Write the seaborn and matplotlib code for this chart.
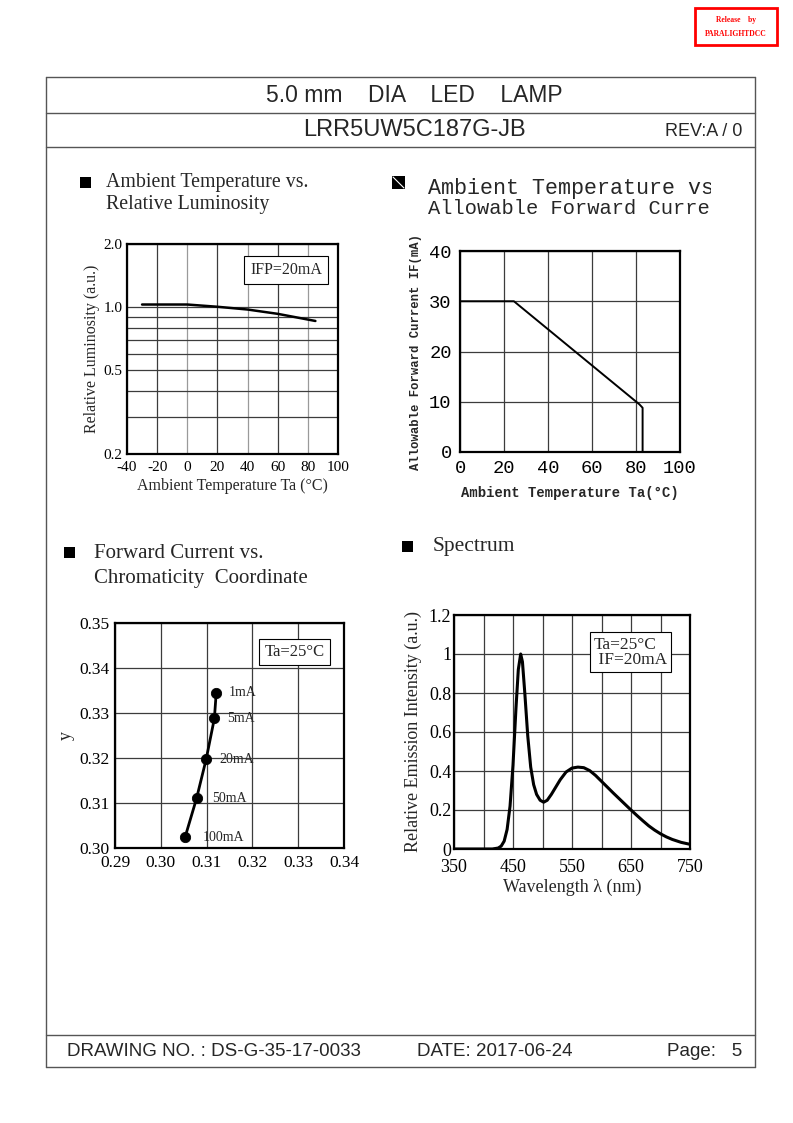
import matplotlib
matplotlib.use("Agg")
import matplotlib.pyplot as plt
import seaborn as sns
from matplotlib.lines import Line2D
from matplotlib.patches import Rectangle
from matplotlib.ticker import FixedLocator, NullFormatter

# ---- data ----
lum_temp = [-30, -10, 0, 20, 40, 60, 85]
lum_rel = [1.03, 1.03, 1.03, 1.005, 0.975, 0.93, 0.86]

derate_temp = [0, 24.5, 81.5, 83, 83]
derate_if = [30, 30, 9.5, 8.8, 0]

chroma_current = ["1mA", "5mA", "20mA", "50mA", "100mA"]
chroma_x = [0.3121, 0.3117, 0.3099, 0.3078, 0.3053]
chroma_y = [0.3345, 0.3288, 0.3197, 0.3110, 0.3024]

spec_wl = [350, 415, 425, 430, 435, 440, 445, 450, 455, 459, 463, 466, 470, 475,
           480, 485, 490, 496, 502, 508, 515, 522, 530, 540, 550, 560, 570, 580,
           590, 600, 610, 620, 630, 640, 650, 660, 670, 680, 690, 700, 710, 720,
           735, 750]
spec_int = [0, 0, 0.005, 0.015, 0.04, 0.10, 0.22, 0.43, 0.72, 0.92, 1.0, 0.96, 0.80, 0.58,
            0.42, 0.33, 0.28, 0.25, 0.24, 0.25, 0.28, 0.315, 0.355, 0.395, 0.415, 0.42, 0.417, 0.402,
            0.377, 0.347, 0.317, 0.287, 0.258, 0.229, 0.20, 0.172, 0.145, 0.119, 0.097, 0.078, 0.062,
            0.049, 0.034, 0.024]

# ---- style ----
sns.set_theme(style="white")
plt.rcParams["font.family"] = ["Liberation Serif", "DejaVu Serif"]
plt.rcParams["axes.linewidth"] = 1.6
plt.rcParams["axes.edgecolor"] = "black"
plt.rcParams["axes.unicode_minus"] = False
plt.rcParams["xtick.color"] = "black"
plt.rcParams["ytick.color"] = "black"

W, H = 793, 1123
fig = plt.figure(figsize=(W / 100, H / 100), dpi=100)


def rect(x0, y0, x1, y1):
    return [x0 / W, 1 - y1 / H, (x1 - x0) / W, (y1 - y0) / H]


def fx(x):
    return x / W


def fy(y):
    return 1 - y / H


def hline(y, x0=46, x1=755):
    fig.add_artist(Line2D([fx(x0), fx(x1)], [fy(y), fy(y)], color="#555555", lw=1))


def vline(x, y0=77, y1=1067):
    fig.add_artist(Line2D([fx(x), fx(x)], [fy(y0), fy(y1)], color="#555555", lw=1))


def bullet(x, y, s=11):
    fig.add_artist(Rectangle((fx(x), fy(y + s)), s / W, s / H, color="black", lw=0))


GRID = "#3c3c3c"

# ---- page frame ----
for y in [77, 113, 147, 1035, 1067]:
    hline(y)
vline(46)
vline(755)

sans = "Liberation Sans"
fig.text(fx(414), fy(96), "5.0 mm    DIA    LED    LAMP", ha="center", va="center",
         fontsize=16.5, family=sans)
fig.text(fx(414), fy(130), "LRR5UW5C187G-JB", ha="center", va="center", fontsize=17, family=sans)
fig.text(fx(742), fy(132), "REV:A / 0", ha="right", va="center", fontsize=13, family=sans)
fig.text(fx(67), fy(1052), "DRAWING NO. : DS-G-35-17-0033", ha="left", va="center",
         fontsize=13.5, family=sans)
fig.text(fx(417), fy(1052), "DATE: 2017-06-24", ha="left", va="center", fontsize=13.5, family=sans)
fig.text(fx(742), fy(1052), "Page:   5", ha="right", va="center", fontsize=13.5, family=sans)

# release stamp
fig.add_artist(Rectangle((fx(695), fy(45)), 82 / W, 37 / H, fill=False, ec="red", lw=2))
fig.text(fx(736), fy(20), "Release    by", ha="center", va="center", fontsize=5.5,
         color="red", weight="bold")
fig.text(fx(736), fy(34), "PARALIGHTDCC", ha="center", va="center", fontsize=5.5,
         color="red", weight="bold")

# ---- headings ----
bullet(80, 177)
fig.text(fx(106), fy(182), "Ambient Temperature vs.", ha="left", va="center", fontsize=14.3)
fig.text(fx(106), fy(205), "Relative Luminosity", ha="left", va="center", fontsize=14.3)

bullet(392, 176, 13)
fig.add_artist(Line2D([fx(393), fx(404)], [fy(177), fy(188)], color="white", lw=0.8))
# heading is cut off at the right edge on the original sheet
hd = fig.add_axes(rect(420, 170, 711, 222))
hd.set_axis_off()
hd.set_xlim(0, 1)
hd.set_ylim(0, 1)
hd.text(0.027, 0.65, "Ambient Temperature vs.", ha="left", va="center", fontsize=15.6,
        family="Liberation Mono", clip_on=True)
hd.text(0.027, 0.26, "Allowable Forward Current", ha="left", va="center", fontsize=14.7,
        family="Liberation Mono", clip_on=True)

bullet(64, 547)
fig.text(fx(94), fy(553), "Forward Current vs.", ha="left", va="center", fontsize=15)
fig.text(fx(94), fy(578), "Chromaticity  Coordinate", ha="left", va="center", fontsize=15)

bullet(402, 541)
fig.text(fx(433), fy(547), "Spectrum", ha="left", va="center", fontsize=15.5)

# ---- chart 1 : relative luminosity ----
ax1 = fig.add_axes(rect(127, 244, 338, 454))
sns.lineplot(x=lum_temp, y=lum_rel, ax=ax1, color="black", lw=1.8, sort=False, estimator=None)
ax1.set_yscale("log")
ax1.set_ylim(0.2, 2.0)
ax1.set_xlim(-40, 100)
ax1.set_xticks(range(-40, 101, 20))
ax1.set_yticks([0.2, 0.5, 1.0, 2.0])
ax1.set_yticklabels(["0.2", "0.5", "1.0", "2.0"])
ax1.yaxis.set_minor_locator(FixedLocator([0.3, 0.4, 0.6, 0.7, 0.8, 0.9]))
ax1.yaxis.set_minor_formatter(NullFormatter())
ax1.grid(True, which="major", color=GRID, lw=0.9)
ax1.grid(True, which="minor", axis="y", color=GRID, lw=0.9)
for i, gl in enumerate(ax1.get_xgridlines()):
    if i % 2 == 0:
        gl.set_color("#9a9a9a")
ax1.tick_params(which="both", length=0, labelsize=11)
ax1.tick_params(axis="y", pad=3)
ax1.tick_params(axis="x", pad=5)
ax1.set_xlabel("Ambient Temperature Ta (°C)", fontsize=11.5, labelpad=3)
ax1.set_ylabel("Relative Luminosity (a.u.)", fontsize=11.5, labelpad=3)
ax1.text(0.924, 0.876, "IFP=20mA", transform=ax1.transAxes, ha="right", va="center",
         fontsize=11.5, bbox=dict(boxstyle="square,pad=0.35", fc="white", ec="black", lw=0.8))

# ---- chart 2 : derating ----
mono = "Liberation Mono"
ax2 = fig.add_axes(rect(460, 251, 680, 452))
sns.lineplot(x=derate_temp, y=derate_if, ax=ax2, color="black", lw=1.4, sort=False, estimator=None)
ax2.set_xlim(0, 100)
ax2.set_ylim(0, 40)
ax2.set_xticks(range(0, 101, 20))
ax2.set_yticks(range(0, 41, 10))
ax2.grid(True, color=GRID, lw=0.9)
ax2.tick_params(length=0, labelsize=13.5, pad=6)
for lab in ax2.get_xticklabels() + ax2.get_yticklabels():
    lab.set_family(mono)
ax2.set_xlabel("Ambient Temperature Ta(°C)", fontsize=10, family=mono, weight="bold", labelpad=6)
ax2.set_ylabel("Allowable Forward Current IF(mA)", fontsize=8.8, family=mono, weight="bold",
               labelpad=5)

# ---- chart 3 : chromaticity ----
ax3 = fig.add_axes(rect(115, 623, 344, 848))
sns.lineplot(x=chroma_x, y=chroma_y, ax=ax3, color="black", lw=2, sort=False, estimator=None)
sns.scatterplot(x=chroma_x, y=chroma_y, ax=ax3, color="black", s=55, edgecolor="black", zorder=3)
ax3.set_xlim(0.29, 0.34)
ax3.set_ylim(0.30, 0.35)
ax3.set_xticks([0.29, 0.30, 0.31, 0.32, 0.33, 0.34])
ax3.set_yticks([0.30, 0.31, 0.32, 0.33, 0.34, 0.35])
ax3.set_xticklabels([f"{v:.2f}" for v in ax3.get_xticks()])
ax3.set_yticklabels([f"{v:.2f}" for v in ax3.get_yticks()])
ax3.grid(True, color=GRID, lw=0.9)
ax3.tick_params(length=0, labelsize=12.5)
ax3.tick_params(axis="x", pad=5)
ax3.tick_params(axis="y", pad=4)
ax3.set_ylabel("y", fontsize=13, labelpad=3)
offsets = [9, 9, 9.5, 11, 12.5]
for lab, x, y, dx in zip(chroma_current, chroma_x, chroma_y, offsets):
    ax3.annotate(lab, (x, y), xytext=(dx, 0), textcoords="offset points", ha="left",
                 va="center", fontsize=10)
ax3.text(0.915, 0.871, "Ta=25°C", transform=ax3.transAxes, ha="right", va="center",
         fontsize=12, bbox=dict(boxstyle="square,pad=0.3", fc="white", ec="black", lw=0.8))

# ---- chart 4 : spectrum ----
ax4 = fig.add_axes(rect(454, 615, 690, 849))
sns.lineplot(x=spec_wl, y=spec_int, ax=ax4, color="black", lw=2.2, sort=False, estimator=None)
ax4.set_xlim(350, 750)
ax4.set_ylim(0, 1.2)
ax4.set_xticks(range(350, 751, 50))
ax4.set_xticklabels([str(v) if (v - 350) % 100 == 0 else "" for v in range(350, 751, 50)])
ax4.set_yticks([0, 0.2, 0.4, 0.6, 0.8, 1.0, 1.2])
ax4.set_yticklabels(["0", "0.2", "0.4", "0.6", "0.8", "1", "1.2"])
ax4.grid(True, color=GRID, lw=0.9)
ax4.tick_params(length=0, labelsize=13)
ax4.tick_params(axis="y", pad=2)
ax4.tick_params(axis="x", pad=7)
ax4.set_xlabel("Wavelength λ (nm)", fontsize=13, labelpad=2)
ax4.set_ylabel("Relative Emission Intensity (a.u.)", fontsize=13, labelpad=5)
ax4.text(0.593, 0.84, "Ta=25°C\n IF=20mA", transform=ax4.transAxes, ha="left", va="center",
         fontsize=12.5, linespacing=0.95, multialignment="left",
         bbox=dict(boxstyle="square,pad=0.25", fc="white", ec="black", lw=0.8))

fig.savefig("out.png", dpi=100)
